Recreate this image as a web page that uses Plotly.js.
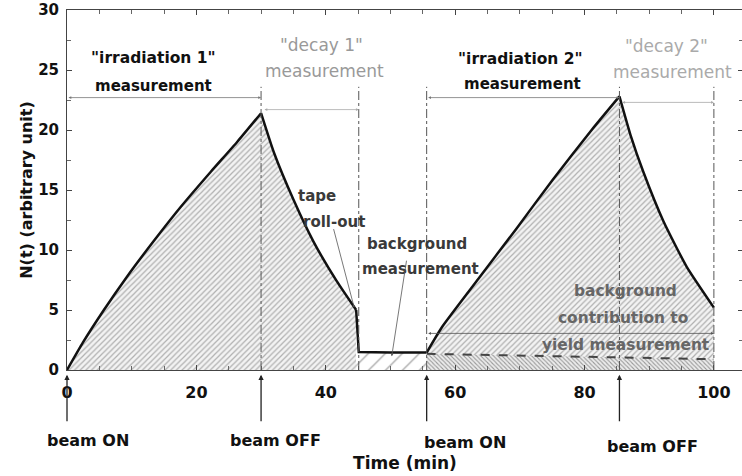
<!DOCTYPE html>
<html>
<head>
<meta charset="utf-8">
<script src="https://cdn.plot.ly/plotly-3.0.1.min.js"></script>
<style>
html,body{margin:0;padding:0;overflow:hidden;background:#fff;}
#chart{width:744px;height:476px;}
</style>
</head>
<body>
<div id="chart"></div>
<script>
// ---- data ----
const irr1T = [0, 2.47, 5.7, 9.3, 13.2, 17.6, 22.2, 26.3, 30];
const irr1N = [0, 2.3, 5.0, 7.8, 10.6, 13.6, 16.5, 19.0, 21.4];
const dec1T = [30, 32, 35, 38.1, 41.7, 44.7];
const dec1N = [21.4, 18.1, 14.2, 10.7, 7.4, 5.0];
const bgT = [44.7, 45.1, 50, 55.6];
const bgN = [5.0, 1.5, 1.45, 1.45];
const irr2T = [55.6, 58, 63.6, 69.5, 75, 81.1, 85.4];
const irr2N = [1.45, 3.6, 7.6, 11.8, 15.8, 20.0, 22.8];
const dec2T = [85.4, 87.1, 89.1, 92.2, 95.8, 100];
const dec2N = [22.8, 19.6, 16.5, 12.4, 8.6, 5.2];
const bgContribT = [55.6, 100];
const bgContribN = [1.35, 0.9];
const beamOnT = [0, 55.6];
const beamOffT = [30, 85.4];
const measEdgesT = [30, 45.1, 55.6, 85.4, 100];
const xTicks = [0, 20, 40, 60, 80, 100];
const yTicks = [0, 5, 10, 15, 20, 25, 30];

const FONT = '"DejaVu Sans", "Liberation Sans", sans-serif';
const hatch = {shape: '/', size: 4, solidity: 0.3, fgcolor: '#b0b0b0', bgcolor: '#f3f3f3'};
const curveLine = {color: '#111', width: 2.5, shape: 'spline', smoothing: 0.5};

const traces = [
  {x: irr1T, y: irr1N, mode: 'lines', fill: 'tozeroy', fillcolor: '#f3f3f3', fillpattern: hatch,
   line: curveLine, hoverinfo: 'skip'},
  {x: dec1T, y: dec1N, mode: 'lines', fill: 'tozeroy', fillcolor: '#f3f3f3', fillpattern: hatch,
   line: curveLine, hoverinfo: 'skip'},
  {x: bgT, y: bgN, mode: 'lines', fill: 'tozeroy', fillcolor: '#fff',
   fillpattern: {shape: '/', size: 12, solidity: 0.1, fgcolor: '#999', bgcolor: '#fff'},
   line: {color: '#111', width: 2.5}, hoverinfo: 'skip'},
  {x: irr2T, y: irr2N, mode: 'lines', fill: 'tozeroy', fillcolor: '#f3f3f3', fillpattern: hatch,
   line: curveLine, hoverinfo: 'skip'},
  {x: dec2T, y: dec2N, mode: 'lines', fill: 'tozeroy', fillcolor: '#f3f3f3', fillpattern: hatch,
   line: curveLine, hoverinfo: 'skip'},
  {x: bgContribT, y: bgContribN, mode: 'lines', fill: 'tozeroy', fillcolor: '#e4e4e4',
   fillpattern: {shape: '\\', size: 3, solidity: 0.35, fgcolor: '#999', bgcolor: '#ececec'},
   line: {color: '#444', width: 2, dash: 'dash'}, hoverinfo: 'skip'}
];

const shapes = measEdgesT.map(t => ({
  type: 'line', xref: 'x', yref: 'y', x0: t, x1: t, y0: 0, y1: 23.6,
  line: {color: '#555', width: 1, dash: 'dashdot'}, layer: 'above'
}));

function txt(x, y, text, color, size, weight) {
  return {x: x, y: y, xref: 'x', yref: 'y', text: text, showarrow: false,
    font: {family: FONT, size: size, color: color, weight: weight},
    xanchor: 'center', yanchor: 'middle'};
}
function hArrow(x0, x1, y, color) {
  return {x: x1, y: y, ax: x0, ay: y, xref: 'x', yref: 'y', axref: 'x', ayref: 'y',
    text: '', showarrow: true, arrowside: 'end+start', arrowhead: 2, arrowsize: 0.7,
    arrowwidth: 0.8, arrowcolor: color, standoff: 0, startstandoff: 0};
}
function beamArrow(t) {
  return {x: t, y: -0.013, xref: 'x', yref: 'paper', ax: 0, ay: 48, text: '',
    showarrow: true, arrowhead: 2, arrowsize: 0.8, arrowwidth: 1.3, arrowcolor: '#222'};
}
function beamLabel(t, text, py) {
  return {x: t, y: (370 - py) / 360, xref: 'x', yref: 'paper', text: text, showarrow: false,
    font: {family: FONT, size: 16, color: '#111', weight: 700}, xanchor: 'center', yanchor: 'middle'};
}

const annotations = [
  txt(13.3, 26.0, '"irradiation 1"', '#111', 15.5, 700),
  txt(13.3, 23.7, 'measurement', '#111', 15, 700),
  txt(39.4, 27.1, '"decay 1"', '#999', 17, 400),
  txt(39.8, 24.9, 'measurement', '#999', 17, 400),
  txt(70.1, 25.9, '"irradiation 2"', '#111', 15.5, 700),
  txt(70.4, 23.8, 'measurement', '#111', 15, 700),
  txt(92.6, 27.0, '"decay 2"', '#aaa', 17, 400),
  txt(93.6, 24.8, 'measurement', '#aaa', 17, 400),
  txt(38.6, 14.5, 'tape', '#3a3a3a', 15, 700),
  txt(41.3, 12.3, 'roll-out', '#3a3a3a', 15, 700),
  txt(54.1, 10.5, 'background', '#3a3a3a', 15, 700),
  txt(54.6, 8.4, 'measurement', '#3a3a3a', 15, 700),
  txt(86.3, 6.6, 'background', '#666', 15.4, 700),
  txt(86.0, 4.35, 'contribution to', '#666', 15.4, 700),
  txt(86.4, 2.1, 'yield measurement', '#666', 15.4, 700),
  hArrow(0, 30, 22.7, '#777'),
  hArrow(30.3, 45.1, 21.7, '#aaa'),
  hArrow(55.6, 85.4, 22.7, '#777'),
  hArrow(85.6, 100, 22.3, '#aaa'),
  hArrow(55.6, 100, 3.05, '#555'),
  {x: 44.4, y: 5.2, xref: 'x', yref: 'y', ax: -21, ay: -80, text: '', showarrow: true,
   arrowhead: 2, arrowsize: 0.6, arrowwidth: 0.8, arrowcolor: '#555'},
  {x: 50.2, y: 1.15, xref: 'x', yref: 'y', ax: 15, ay: -97, text: '', showarrow: true,
   arrowhead: 2, arrowsize: 0.6, arrowwidth: 0.8, arrowcolor: '#555'},
  beamArrow(beamOnT[0]), beamArrow(beamOffT[0]), beamArrow(beamOnT[1]), beamArrow(beamOffT[1]),
  beamLabel(beamOnT[0] + 3.2, 'beam ON', 440),
  beamLabel(beamOffT[0] + 2.2, 'beam OFF', 440),
  beamLabel(beamOnT[1] + 6.0, 'beam ON', 442),
  beamLabel(beamOffT[1] + 5.1, 'beam OFF', 447)
];

const layout = {
  width: 744, height: 476,
  margin: {l: 67, r: 1, t: 10, b: 106},
  paper_bgcolor: '#fff', plot_bgcolor: '#fff',
  showlegend: false,
  font: {family: FONT, size: 15, color: '#111'},
  xaxis: {
    range: [0, 104.5], tickvals: xTicks, ticktext: xTicks.map(String),
    ticks: 'inside', ticklen: 5, tickcolor: '#444',
    minor: {tickvals: [5,10,15,25,30,35,45,50,55,65,70,75,85,90,95], ticks: 'inside', ticklen: 4, tickcolor: '#666'},
    showline: true, linecolor: '#444', linewidth: 1, mirror: 'ticks',
    showgrid: false, zeroline: false,
    tickfont: {family: FONT, size: 16, color: '#111', weight: 700},
    ticklabelstandoff: 8,
    title: {text: 'Time (min)', font: {family: FONT, size: 17, color: '#111', weight: 700}, standoff: 55}
  },
  yaxis: {
    range: [0, 30], tickvals: yTicks, ticktext: yTicks.map(String),
    ticks: 'inside', ticklen: 5, tickcolor: '#444',
    minor: {dtick: 2.5, ticks: 'inside', ticklen: 4, tickcolor: '#666'},
    showline: true, linecolor: '#444', linewidth: 1, mirror: 'ticks',
    showgrid: false, zeroline: false,
    tickfont: {family: FONT, size: 15, color: '#111', weight: 700},
    ticklabelstandoff: 4,
    title: {text: 'N(t) (arbitrary unit)', font: {family: FONT, size: 16, color: '#111', weight: 700}, standoff: 1}
  },
  shapes: shapes,
  annotations: annotations
};

Plotly.newPlot('chart', traces, layout, {displayModeBar: false, staticPlot: true});
</script>
</body>
</html>
